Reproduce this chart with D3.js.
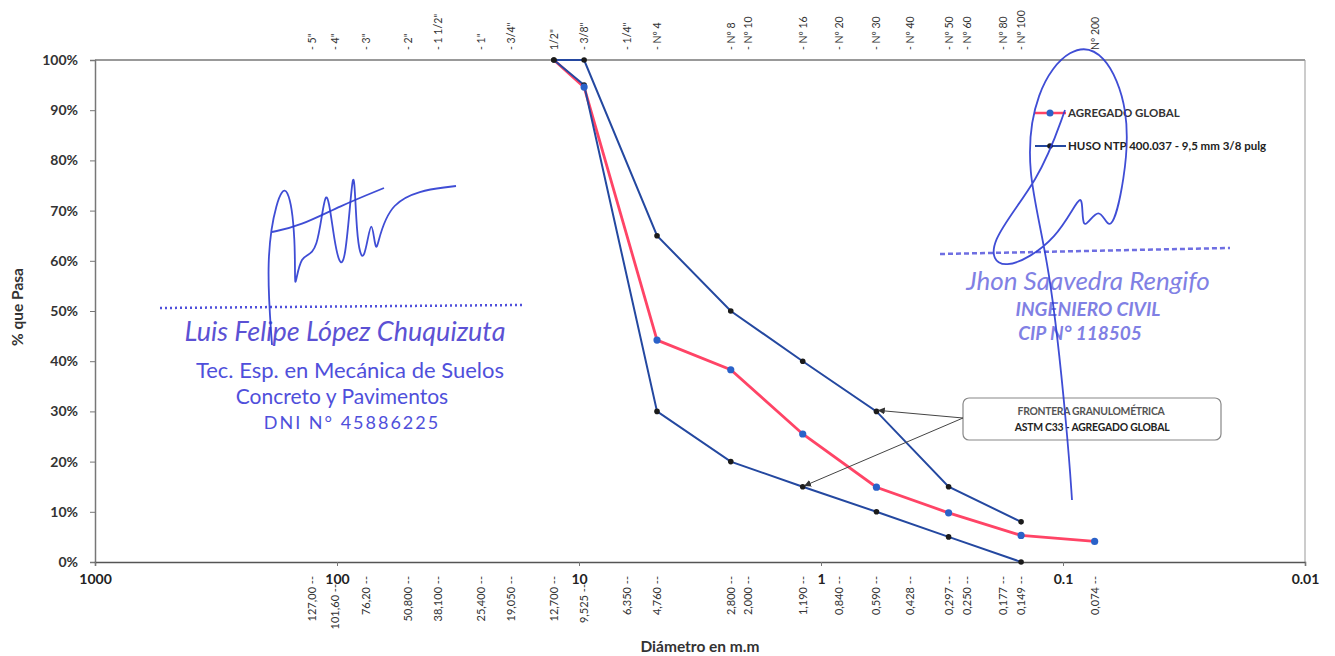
<!DOCTYPE html>
<html>
<head>
<meta charset="utf-8">
<script src="https://cdn.jsdelivr.net/npm/d3@7"></script>
<style>
  body { margin: 0; background: #fff; }
  svg text { font-family: Lato, "Open Sans", sans-serif; }
</style>
</head>
<body>
<div id="chart"></div>
<script>
// sieve openings (mm) used by the curves
const sieveSizes = [12.7, 9.525, 4.76, 2.36, 1.19, 0.59, 0.297, 0.149, 0.074];
const agregadoGlobal = [100, 94.6, 44.2, 38.3, 25.5, 14.9, 9.8, 5.3, 4.1];
const husoSizes = [12.7, 9.525, 4.76, 2.36, 1.19, 0.59, 0.297, 0.149];
const husoSuperior = [100, 100, 65, 50, 40, 30, 15, 8];
const husoInferior = [100, 95, 30, 20, 15, 10, 5, 0];

// sieve labels along the axes
const sieveTickValues = [127, 101.6, 76.2, 50.8, 38.1, 25.4, 19.05, 12.7, 9.525, 6.35, 4.76, 2.36, 2.0, 1.19, 0.84, 0.59, 0.428, 0.297, 0.25, 0.177, 0.149, 0.074];
const bottomTickLabels = ["127,00 --", "101,60 --", "76,20 --", "50,800 --", "38,100 --", "25,400 --", "19,050 --", "12,700 --", "9,525 --", "6,350 --", "4,760 --", "2,800 --", "2,000 --", "1,190 --", "0,840 --", "0,590 --", "0,428 --", "0,297 --", "0,250 --", "0,177 --", "0,149 --", "0,074 --"];
const topTickLabels = ["- 5\"", "- 4\"", "- 3\"", "- 2\"", "- 1 1/2\"", "- 1\"", "- 3/4\"", "1/2\"", "- 3/8\"", "- 1/4\"", "- Nº 4", "- Nº 8", "- Nº 10", "- Nº 16", "- Nº 20", "- Nº 30", "- Nº 40", "- Nº 50", "- Nº 60", "- Nº 80", "- Nº 100", "Nº 200"];
const decadeTicks = [1000, 100, 10, 1, 0.1, 0.01];
const decadeLabels = ["1000", "100", "10", "1", "0.1", "0.01"];
const percentTicks = [0, 10, 20, 30, 40, 50, 60, 70, 80, 90, 100];

const width = 1335, height = 656;
const plotLeft = 95, plotRight = 1305, plotTop = 60, plotBottom = 562;

const svg = d3.select("#chart").append("svg")
    .attr("width", width)
    .attr("height", height);

const x = d3.scaleLog().domain([1000, 0.01]).range([plotLeft, plotRight]);
const y = d3.scaleLinear().domain([0, 100]).range([plotBottom, plotTop]);

// frame
svg.append("line").attr("x1", plotLeft).attr("x2", plotRight).attr("y1", plotTop).attr("y2", plotTop)
    .attr("stroke", "#777").attr("stroke-width", 1.5);
svg.append("line").attr("x1", plotRight).attr("x2", plotRight).attr("y1", plotTop).attr("y2", plotBottom)
    .attr("stroke", "#999").attr("stroke-width", 1);

// y axis
const yAxis = svg.append("g")
    .attr("transform", `translate(${plotLeft},0)`)
    .call(d3.axisLeft(y).tickValues(percentTicks).tickSize(5).tickFormat(d => d + "%"));
yAxis.select(".domain").attr("stroke", "#777").attr("stroke-width", 1.5);
yAxis.selectAll(".tick line").attr("stroke", "#777");
yAxis.selectAll("text").attr("font-size", 14).attr("font-weight", "bold").attr("fill", "#333")
    .attr("x", -17);

// x axis (decades)
const xAxis = svg.append("g")
    .attr("transform", `translate(0,${plotBottom})`)
    .call(d3.axisBottom(x).tickValues(decadeTicks).tickSize(4)
        .tickFormat((d, i) => decadeLabels[i]));
xAxis.select(".domain").attr("stroke", "#555").attr("stroke-width", 1.5);
xAxis.selectAll(".tick line").attr("stroke", "#777");
xAxis.selectAll("text").attr("font-size", 14).attr("font-weight", "bold").attr("fill", "#222")
    .attr("y", 12);

// bottom sieve labels
svg.append("g").selectAll("text")
    .data(sieveTickValues)
    .join("text")
    .attr("transform", d => `translate(${x(d) + 4},${d === 101.6 || d === 9.525 ? 584 : 576}) rotate(-90)`)
    .attr("text-anchor", "end")
    .attr("font-size", 11)
    .attr("fill", "#333")
    .text((d, i) => bottomTickLabels[i]);

// top sieve labels
svg.append("g").selectAll("text")
    .data(sieveTickValues)
    .join("text")
    .attr("transform", d => `translate(${x(d) + 4},50) rotate(-90)`)
    .attr("text-anchor", "start")
    .attr("font-size", 10.5)
    .attr("fill", "#333")
    .text((d, i) => topTickLabels[i]);

// axis titles
svg.append("text").attr("x", 700).attr("y", 652).attr("text-anchor", "middle")
    .attr("font-size", 15.5).attr("font-weight", "bold").attr("fill", "#333")
    .text("Diámetro en m.m");
svg.append("text").attr("transform", "translate(23,307) rotate(-90)").attr("text-anchor", "middle")
    .attr("font-size", 15.5).attr("font-weight", "bold").attr("fill", "#333")
    .text("% que Pasa");

// curves
const line = d3.line().x(d => x(d[0])).y(d => y(d[1]));
const superior = husoSizes.map((s, i) => [s, husoSuperior[i]]);
const inferior = husoSizes.map((s, i) => [s, husoInferior[i]]);
const global = sieveSizes.map((s, i) => [s, agregadoGlobal[i]]);

svg.append("path").datum(global).attr("d", line)
    .attr("fill", "none").attr("stroke", "#ff4466").attr("stroke-width", 2.8);
[superior, inferior].forEach(pts => {
    svg.append("path").datum(pts).attr("d", line)
        .attr("fill", "none").attr("stroke", "#2448a0").attr("stroke-width", 2);
});

[superior, inferior].forEach(pts => {
    svg.append("g").selectAll("circle").data(pts).join("circle")
        .attr("cx", d => x(d[0])).attr("cy", d => y(d[1])).attr("r", 2.8)
        .attr("fill", "#1b1b1b");
});
svg.append("g").selectAll("circle").data(global.slice(1)).join("circle")
    .attr("cx", d => x(d[0])).attr("cy", d => y(d[1])).attr("r", 3.6)
    .attr("fill", "#2a62c9");

// legend
const legend = svg.append("g");
legend.append("line").attr("x1", 1035).attr("x2", 1066).attr("y1", 113).attr("y2", 113)
    .attr("stroke", "#ff4466").attr("stroke-width", 2.5);
legend.append("circle").attr("cx", 1050).attr("cy", 113).attr("r", 3.5).attr("fill", "#2a62c9");
legend.append("text").attr("x", 1068).attr("y", 117).attr("font-size", 11.5).attr("font-weight", "bold")
    .attr("fill", "#333").text("AGREGADO GLOBAL");
legend.append("line").attr("x1", 1035).attr("x2", 1066).attr("y1", 146).attr("y2", 146)
    .attr("stroke", "#2448a0").attr("stroke-width", 2);
legend.append("circle").attr("cx", 1050).attr("cy", 146).attr("r", 2.8).attr("fill", "#1b1b1b");
legend.append("text").attr("x", 1068).attr("y", 150).attr("font-size", 11.5).attr("font-weight", "bold")
    .attr("fill", "#222").text("HUSO NTP 400.037 - 9,5 mm 3/8 pulg");

// annotation box with arrows
const box = svg.append("g");
box.append("rect").attr("x", 963).attr("y", 398).attr("width", 258).attr("height", 42).attr("rx", 6)
    .attr("fill", "#fff").attr("stroke", "#888").attr("stroke-width", 1.2);
box.append("text").attr("x", 1091).attr("y", 415).attr("text-anchor", "middle").attr("font-size", 10.4)
    .attr("letter-spacing", -0.3).attr("font-weight", "bold").attr("fill", "#555").text("FRONTERA GRANULOMÉTRICA");
box.append("text").attr("x", 1092).attr("y", 431).attr("text-anchor", "middle").attr("font-size", 10.4)
    .attr("letter-spacing", -0.2).attr("font-weight", "bold").attr("fill", "#222").text("ASTM C33 - AGREGADO GLOBAL");
svg.append("defs").append("marker").attr("id", "arr").attr("viewBox", "0 0 10 10")
    .attr("refX", 9).attr("refY", 5).attr("markerWidth", 7).attr("markerHeight", 7).attr("orient", "auto")
    .append("path").attr("d", "M0,0 L10,5 L0,10 z").attr("fill", "#333");
[[0.59, 30], [1.19, 15]].forEach(p => {
    svg.append("line").attr("x1", 963).attr("y1", 418).attr("x2", x(p[0]) + 2).attr("y2", y(p[1]) - 1)
        .attr("stroke", "#444").attr("stroke-width", 1).attr("marker-end", "url(#arr)");
});

// stamps and signatures
const ink = "#3c3cd8";
const stamp = svg.append("g").attr("fill", ink).attr("opacity", 0.9);
stamp.append("line").attr("x1", 160).attr("x2", 522).attr("y1", 308).attr("y2", 305)
    .attr("stroke", ink).attr("stroke-width", 2.5).attr("stroke-dasharray", "2,3");
stamp.append("text").attr("x", 345).attr("y", 341).attr("text-anchor", "middle")
    .attr("font-family", "DejaVu Serif").attr("font-style", "italic").attr("font-size", 27)
    .attr("fill", "#4b3fd0").text("Luis Felipe López Chuquizuta");
stamp.append("text").attr("x", 350).attr("y", 378).attr("text-anchor", "middle").attr("font-size", 22)
    .attr("font-family", "Liberation Sans").text("Tec. Esp. en Mecánica de Suelos");
stamp.append("text").attr("x", 342).attr("y", 404).attr("text-anchor", "middle").attr("font-size", 21)
    .attr("font-family", "Liberation Sans").text("Concreto y Pavimentos");
stamp.append("text").attr("x", 352).attr("y", 429).attr("text-anchor", "middle").attr("font-size", 18)
    .attr("font-family", "Liberation Sans").attr("letter-spacing", 2).text("DNI N° 45886225");

const stamp2 = svg.append("g").attr("fill", "#6a6ae0").attr("opacity", 0.85);
stamp2.append("line").attr("x1", 940).attr("x2", 1230).attr("y1", 254).attr("y2", 248)
    .attr("stroke", "#5555dd").attr("stroke-width", 2.5).attr("stroke-dasharray", "5,3");
stamp2.append("text").attr("x", 1088).attr("y", 290).attr("text-anchor", "middle")
    .attr("font-family", "DejaVu Serif").attr("font-style", "italic").attr("font-size", 26)
    .text("Jhon Saavedra Rengifo");
stamp2.append("text").attr("x", 1088).attr("y", 316).attr("text-anchor", "middle").attr("font-size", 19)
    .attr("font-family", "Liberation Sans").attr("font-style", "italic").attr("font-weight", "bold")
    .text("INGENIERO CIVIL");
stamp2.append("text").attr("x", 1080).attr("y", 340).attr("text-anchor", "middle").attr("font-size", 19)
    .attr("font-family", "Liberation Sans").attr("font-style", "italic").attr("font-weight", "bold")
    .text("CIP N° 118505");

const pen = d3.line().curve(d3.curveBasis);
const sig1 = [[272, 345], [266, 260], [276, 200], [288, 180], [296, 240], [294, 300], [300, 250], [318, 260],
    [326, 170], [334, 245], [345, 285], [354, 140], [356, 240], [364, 270], [372, 205], [376, 270], [384, 195], [456, 186]];
const sig2 = [[272, 232], [300, 226], [340, 206], [384, 188]];
const sig3 = [[1065, 110], [1040, 180], [985, 245], [1000, 275], [1060, 240], [1085, 180], [1080, 240], [1100, 200],
    [1110, 240], [1125, 180], [1130, 110], [1105, 50], [1070, 45], [1035, 90], [1025, 170], [1050, 260], [1068, 440], [1072, 500]];
[sig1, sig2, sig3].forEach(pts => {
    svg.append("path").attr("d", pen(pts)).attr("fill", "none")
        .attr("stroke", "#2a3ad0").attr("stroke-width", 1.8).attr("opacity", 0.9);
});
</script>
</body>
</html>
